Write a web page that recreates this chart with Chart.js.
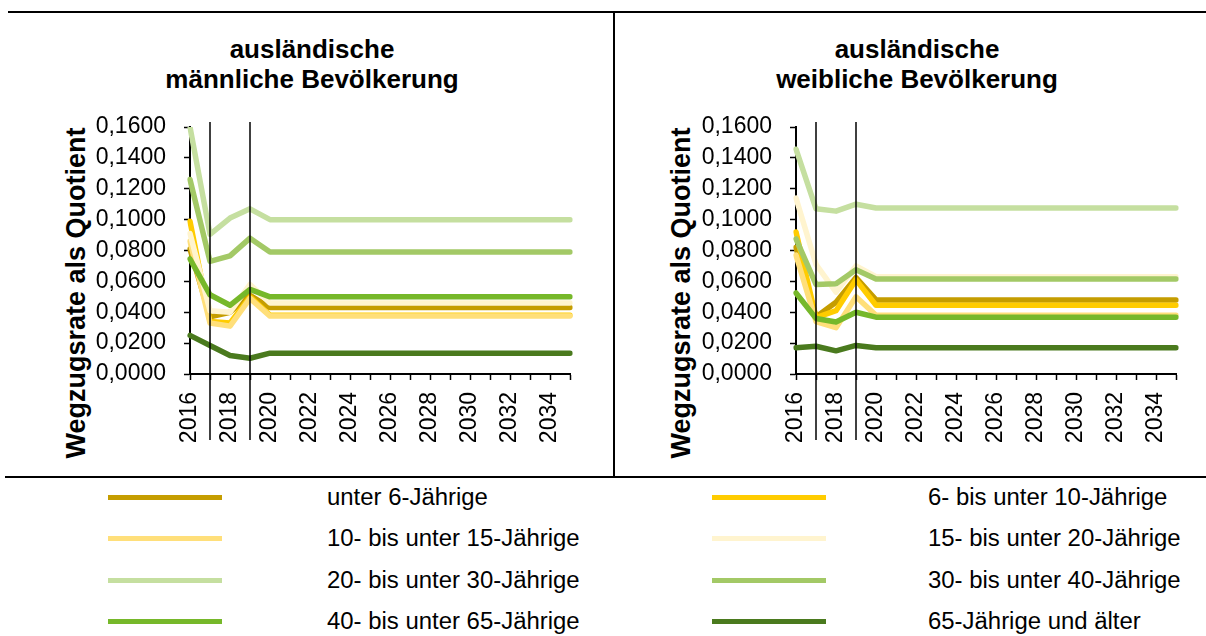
<!doctype html>
<html lang="de">
<head>
  <meta charset="utf-8">
  <title>Wegzugsraten ausländische Bevölkerung</title>
  <style>
    * {
      margin: 0;
      padding: 0;
      font-family: 'Liberation Sans', Arial, sans-serif;
      color: black;
    }
    body {
      width: 1206px;
      height: 636px;
      position: relative;
      background: white;
      overflow: hidden;
    }
    canvas {
      position: absolute;
    }
    .rule {
      position: absolute;
      background: black;
    }
    .panelTitle {
      position: absolute;
      width: 500px;
      text-align: center;
      font-weight: bold;
      font-size: 26px;
      line-height: 30px;
      transform: translateX(-50%);
    }
    .yTitle {
      position: absolute;
      font-weight: bold;
      font-size: 27px;
      white-space: nowrap;
      transform: translate(-50%, -50%) rotate(-90deg);
    }
    .legSwatch {
      position: absolute;
      width: 114px;
      height: 5px;
    }
    .legLabel {
      position: absolute;
      font-size: 23px;
      white-space: nowrap;
      transform: translateY(-50%) scaleX(1.04);
      transform-origin: left center;
    }
  </style>
</head>

<body>
  <div class="rule" style="left:8px; top:11px; width:1198px; height:2px;"></div>
  <div class="rule" style="left:613px; top:12px; width:2px; height:465px;"></div>
  <div class="rule" style="left:5px; top:476px; width:1201px; height:2px;"></div>

  <div class="panelTitle" style="left:312px; top:34px;">ausländische<br>männliche Bevölkerung</div>
  <div class="panelTitle" style="left:917px; top:34px;">ausländische<br>weibliche Bevölkerung</div>

  <div class="yTitle" style="left:76px; top:293px;">Wegzugsrate als Quotient</div>
  <div class="yTitle" style="left:681px; top:293px;">Wegzugsrate als Quotient</div>

  <canvas id="chartMale" width="600" height="360" style="left:0px; top:110px;"></canvas>
  <canvas id="chartFemale" width="600" height="360" style="left:606px; top:110px;"></canvas>

  <div id="legend"></div>

  <script src="https://cdn.jsdelivr.net/npm/chart.js"></script>
  <script>
    // years on the x-axis
    const years = ['2016', '2017', '2018', '2019', '2020', '2021', '2022', '2023', '2024', '2025',
                   '2026', '2027', '2028', '2029', '2030', '2031', '2032', '2033', '2034', '2035'];
    const markYears = ['2017', '2019'];

    const seriesNames = [
      'unter 6-Jährige', '6- bis unter 10-Jährige', '10- bis unter 15-Jährige', '15- bis unter 20-Jährige',
      '20- bis unter 30-Jährige', '30- bis unter 40-Jährige', '40- bis unter 65-Jährige', '65-Jährige und älter'
    ];
    const seriesColors = ['#c59d00', '#ffcc00', '#ffdf7a', '#fff4cf', '#c5dfa0', '#a3c966', '#76b82a', '#4a7a1e'];

    const yTicks = [0, 0.02, 0.04, 0.06, 0.08, 0.10, 0.12, 0.14, 0.16];

    const maleU6    = [0.081, 0.037, 0.040, 0.051, 0.043, 0.043, 0.043, 0.043, 0.043, 0.043, 0.043, 0.043, 0.043, 0.043, 0.043, 0.043, 0.043, 0.043, 0.043, 0.043];
    const male6to10 = [0.099, 0.034, 0.033, 0.050, 0.038, 0.038, 0.038, 0.038, 0.038, 0.038, 0.038, 0.038, 0.038, 0.038, 0.038, 0.038, 0.038, 0.038, 0.038, 0.038];
    const male10to15= [0.086, 0.033, 0.031, 0.049, 0.0375, 0.0375, 0.0375, 0.0375, 0.0375, 0.0375, 0.0375, 0.0375, 0.0375, 0.0375, 0.0375, 0.0375, 0.0375, 0.0375, 0.0375, 0.0375];
    const male15to20= [0.091, 0.041, 0.040, 0.058, 0.046, 0.046, 0.046, 0.046, 0.046, 0.046, 0.046, 0.046, 0.046, 0.046, 0.046, 0.046, 0.046, 0.046, 0.046, 0.046];
    const male20to30= [0.160, 0.0905, 0.101, 0.107, 0.100, 0.100, 0.100, 0.100, 0.100, 0.100, 0.100, 0.100, 0.100, 0.100, 0.100, 0.100, 0.100, 0.100, 0.100, 0.100];
    const male30to40= [0.126, 0.073, 0.0765, 0.088, 0.079, 0.079, 0.079, 0.079, 0.079, 0.079, 0.079, 0.079, 0.079, 0.079, 0.079, 0.079, 0.079, 0.079, 0.079, 0.079];
    const male40to65= [0.0745, 0.0513, 0.0445, 0.0548, 0.050, 0.050, 0.050, 0.050, 0.050, 0.050, 0.050, 0.050, 0.050, 0.050, 0.050, 0.050, 0.050, 0.050, 0.050, 0.050];
    const male65plus= [0.025, 0.0185, 0.012, 0.0102, 0.0135, 0.0135, 0.0135, 0.0135, 0.0135, 0.0135, 0.0135, 0.0135, 0.0135, 0.0135, 0.0135, 0.0135, 0.0135, 0.0135, 0.0135, 0.0135];

    // weiblich
    const femU6    = [0.082, 0.037, 0.0465, 0.0625, 0.048, 0.048, 0.048, 0.048, 0.048, 0.048, 0.048, 0.048, 0.048, 0.048, 0.048, 0.048, 0.048, 0.048, 0.048, 0.048];
    const fem6to10 = [0.092, 0.0365, 0.041, 0.061, 0.0445, 0.0445, 0.0445, 0.0445, 0.0445, 0.0445, 0.0445, 0.0445, 0.0445, 0.0445, 0.0445, 0.0445, 0.0445, 0.0445, 0.0445, 0.0445];
    const fem10to15= [0.077, 0.034, 0.030, 0.050, 0.038, 0.038, 0.038, 0.038, 0.038, 0.038, 0.038, 0.038, 0.038, 0.038, 0.038, 0.038, 0.038, 0.038, 0.038, 0.038];
    const fem15to20= [0.114, 0.071, 0.053, 0.070, 0.063, 0.063, 0.063, 0.063, 0.063, 0.063, 0.063, 0.063, 0.063, 0.063, 0.063, 0.063, 0.063, 0.063, 0.063, 0.063];
    const fem20to30= [0.1456, 0.107, 0.1055, 0.110, 0.1075, 0.1075, 0.1075, 0.1075, 0.1075, 0.1075, 0.1075, 0.1075, 0.1075, 0.1075, 0.1075, 0.1075, 0.1075, 0.1075, 0.1075, 0.1075];
    const fem30to40= [0.0875, 0.058, 0.0585, 0.0675, 0.0615, 0.0615, 0.0615, 0.0615, 0.0615, 0.0615, 0.0615, 0.0615, 0.0615, 0.0615, 0.0615, 0.0615, 0.0615, 0.0615, 0.0615, 0.0615];
    const fem40to65= [0.0525, 0.036, 0.0337, 0.040, 0.0368, 0.0368, 0.0368, 0.0368, 0.0368, 0.0368, 0.0368, 0.0368, 0.0368, 0.0368, 0.0368, 0.0368, 0.0368, 0.0368, 0.0368, 0.0368];
    const fem65plus= [0.017, 0.018, 0.015, 0.0185, 0.017, 0.017, 0.017, 0.017, 0.017, 0.017, 0.017, 0.017, 0.017, 0.017, 0.017, 0.017, 0.017, 0.017, 0.017, 0.017];

    const maleSeries = [maleU6, male6to10, male10to15, male15to20, male20to30, male30to40, male40to65, male65plus];
    const femSeries  = [femU6, fem6to10, fem10to15, fem15to20, fem20to30, fem30to40, fem40to65, fem65plus];

    Chart.defaults.font.family = "'Liberation Sans', Arial, sans-serif";
    Chart.defaults.color = 'black';

    // thin black verticals at 2017 and 2019
    const markerLines = {
      id: 'markerLines',
      afterDatasetsDraw(chart) {
        const {ctx, chartArea, scales: {x}} = chart;
        ctx.save();
        ctx.strokeStyle = 'black';
        ctx.lineWidth = 1.5;
        markYears.forEach(yr => {
          const px = x.getPixelForValue(years.indexOf(yr));
          ctx.beginPath();
          ctx.moveTo(px, chartArea.top - 5);
          ctx.lineTo(px, chartArea.bottom + 66);
          ctx.stroke();
        });
        ctx.restore();
      }
    };

    function buildChart(canvasId, series) {
      const datasets = series.map((vals, i) => ({
        label: seriesNames[i],
        data: vals,
        borderColor: seriesColors[i],
        backgroundColor: seriesColors[i],
        borderWidth: 5.5,
        pointRadius: 0,
        borderJoinStyle: 'round',
        borderCapStyle: 'round',
        tension: 0,
        // later series on top, like the original
        order: series.length - i
      }));

      return new Chart(document.getElementById(canvasId), {
        type: 'line',
        data: { labels: years, datasets },
        options: {
          responsive: false,
          devicePixelRatio: 1,
          animation: false,
          layout: { padding: { top: 17, right: 30, left: 0, bottom: 0 } },
          plugins: {
            legend: { display: false },
            tooltip: { enabled: false }
          },
          scales: {
            x: {
              offset: false,
              border: { color: 'black', width: 2 },
              grid: { drawOnChartArea: false, color: 'black', tickLength: 6, tickWidth: 1.5 },
              ticks: {
                autoSkip: false,
                minRotation: 90,
                maxRotation: 90,
                padding: 12,
                font: { size: 23 },
                callback: (val, idx) => idx % 2 === 0 ? years[idx] : ''
              },
              afterFit: (scale) => {
                scale.height = 96;
                scale.paddingLeft = 0;
                scale.paddingRight = 0;
              }
            },
            y: {
              min: 0,
              max: 0.16,
              afterBuildTicks: (scale) => { scale.ticks = yTicks.map(v => ({ value: v })); },
              border: { color: 'black', width: 2 },
              grid: { drawOnChartArea: false, color: 'black', tickLength: 6, tickWidth: 1.5 },
              ticks: {
                padding: 18,
                font: { size: 23 },
                callback: (val) => val.toFixed(4).replace('.', ',')
              },
              afterFit: (scale) => {
                scale.width = 190;
                // keep the plot area where the original has it
                scale.paddingTop = 10;
                scale.paddingBottom = 10;
              }
            }
          }
        },
        plugins: [markerLines]
      });
    }

    buildChart('chartMale', maleSeries);
    buildChart('chartFemale', femSeries);

    // legend below, two columns
    const legendRows = [497, 538, 580, 621];
    const legend = document.getElementById('legend');
    seriesNames.forEach((name, i) => {
      const col = i % 2;
      const row = Math.floor(i / 2);
      const sw = document.createElement('div');
      sw.className = 'legSwatch';
      sw.style.left = (col === 0 ? 108 : 712) + 'px';
      sw.style.top = (legendRows[row] - 2.5) + 'px';
      sw.style.background = seriesColors[i];
      legend.appendChild(sw);

      const lab = document.createElement('div');
      lab.className = 'legLabel';
      lab.style.left = (col === 0 ? 327 : 928) + 'px';
      lab.style.top = legendRows[row] + 'px';
      lab.textContent = name;
      legend.appendChild(lab);
    });
  </script>
</body>
</html>
